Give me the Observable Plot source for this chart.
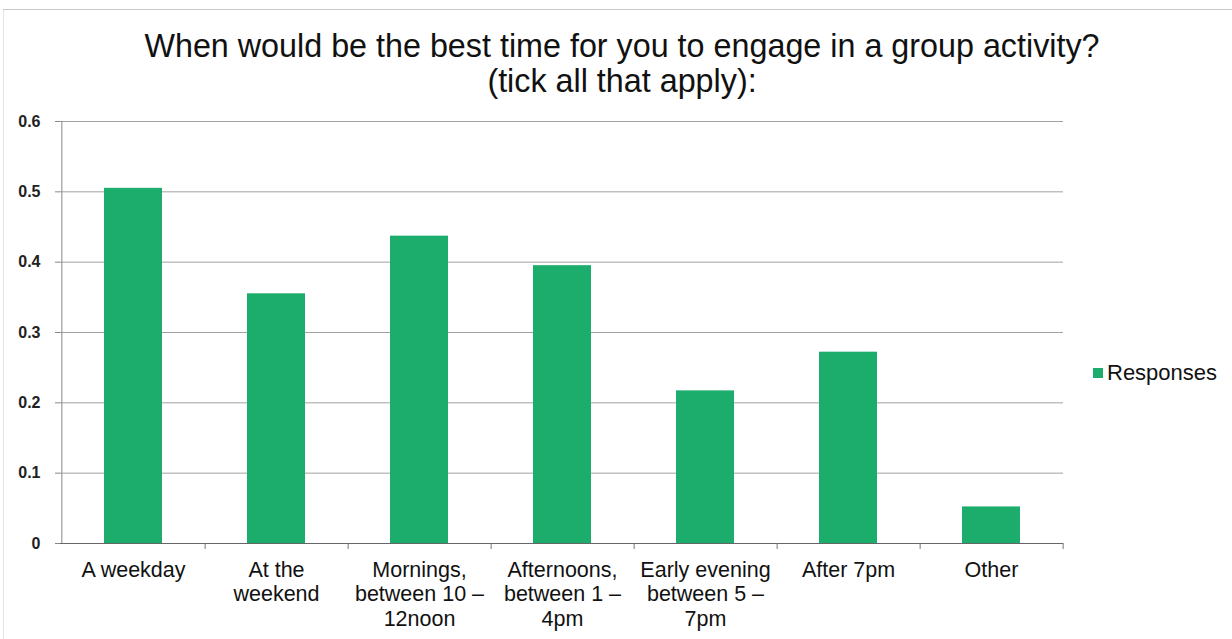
<!DOCTYPE html>
<html>
<head>
<meta charset="utf-8">
<script src="https://cdn.jsdelivr.net/npm/d3@7"></script>
<script src="https://cdn.jsdelivr.net/npm/@observablehq/plot@0.6"></script>
<style>
  html, body { margin: 0; padding: 0; background: #fff; }
  #wrap { position: relative; width: 1232px; height: 639px; overflow: hidden; }
  #frame { position: absolute; left: 3px; top: 9px; width: 1240px; height: 640px; border-top: 1.5px solid #c8c8c8; border-left: 1px solid #e4e4e4; pointer-events: none; }
  #title { height: 100px; box-sizing: border-box; padding-top: 29px; text-align: center;
    font-family: "Liberation Sans", Arial, sans-serif; font-size: 32.3px; line-height: 35px; color: #111; padding-left: 12px; }
  #legend { position: absolute; left: 1093px; top: 360px; font-family: "Liberation Sans", Arial, sans-serif; font-size: 22px; color: #111; display: flex; align-items: center; }
  #legend .sw { width: 10px; height: 10px; margin-right: 4px; }
</style>
</head>
<body>
<div id="wrap">
  <div id="frame"></div>
  <div id="title">When would be the best time for you to engage in a group activity?<br>(tick all that apply):</div>
  <div id="chart"></div>
  <div id="legend"><span class="sw"></span><span id="legendLabel"></span></div>
</div>
<script>
const categories = [
  "A weekday",
  "At the\nweekend",
  "Mornings,\nbetween 10 –\n12noon",
  "Afternoons,\nbetween 1 –\n4pm",
  "Early evening\nbetween 5 –\n7pm",
  "After 7pm",
  "Other"
];
const responses = [0.505, 0.355, 0.437, 0.395, 0.217, 0.272, 0.052];
const yTicks = [0, 0.1, 0.2, 0.3, 0.4, 0.5, 0.6];
const seriesName = "Responses";
const barColor = "#1cac6b";

const data = categories.map((c, i) => ({category: c, value: responses[i]}));

const width = 1232, height = 539;
const marginLeft = 60, marginRight = 169;
const step = (width - marginLeft - marginRight) / categories.length;

const chart = Plot.plot({
  width, height,
  marginTop: 21, marginBottom: 96, marginLeft, marginRight,
  style: {fontFamily: "Liberation Sans, Arial, sans-serif", color: "#111", background: "transparent"},
  x: {domain: categories, paddingInner: 0.595, paddingOuter: 0.2975, label: null},
  y: {domain: [0, 0.6], label: null},
  marks: [
    Plot.gridY(yTicks, {stroke: "#8a8a8a", strokeOpacity: 0.8, strokeWidth: 1}),
    Plot.barY(data, {x: "category", y: "value", fill: barColor}),
    Plot.ruleY([0], {stroke: "#666", strokeWidth: 1}),
    Plot.ruleX([0], {x: () => categories[0], dx: -step / 2, stroke: "#888"}),
    Plot.axisY(yTicks, {tickSize: 5, tickPadding: 15, tickFormat: d => String(d), fontSize: 16, fontWeight: "bold", fill: "#222", stroke: "#888"}),
    Plot.axisX({tickSize: 0, tickPadding: 16, fontSize: 21.5, lineHeight: 1.14, fill: "#111"}),
    Plot.axisX({tickSize: 6, text: null, dx: step / 2, stroke: "#777"}),
  ]
});
document.getElementById("chart").appendChild(chart);
document.querySelector("#legend .sw").style.background = barColor;
document.getElementById("legendLabel").textContent = seriesName;
</script>
</body>
</html>
